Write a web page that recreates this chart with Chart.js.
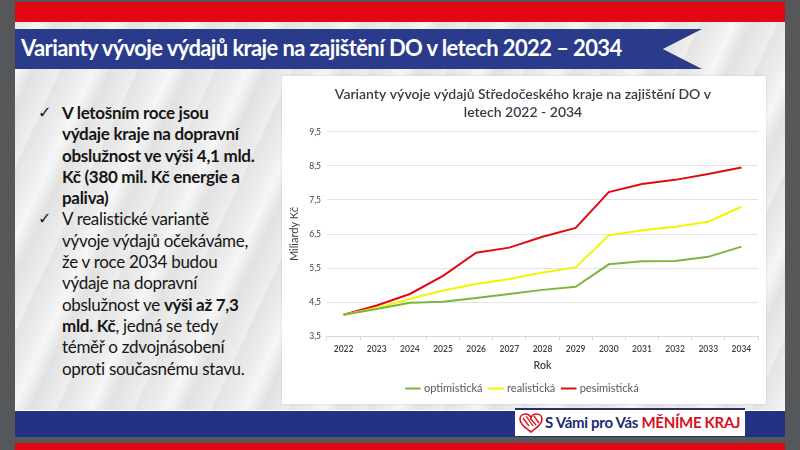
<!DOCTYPE html>
<html>
<head>
<meta charset="utf-8">
<script src="https://cdn.jsdelivr.net/npm/chart.js@4"></script>
<style>
  html, body { margin: 0; padding: 0; }
  body { width: 800px; height: 450px; background: #565758; position: relative; overflow: hidden; font-family: Lato, "Open Sans", sans-serif; }
  #slide { position: absolute; left: 15px; top: 2px; width: 770px; height: 434px;
    background: repeating-linear-gradient(115deg, #e4e4e4 0px, #ececec 18px, #f6f6f6 30px, #e2e2e2 46px, #eeeeee 70px); }
  #topbar { position: absolute; left: 15px; top: 2px; width: 770px; height: 20px; background: #e30613; }
  #banner { position: absolute; left: 15px; top: 29px; width: 687px; height: 40px; background: #2b3b8c;
    clip-path: polygon(0 0, 100% 0, 94.3% 50%, 100% 100%, 0 100%); }
  #banner span { position: absolute; left: 6px; top: 5px; color: #fff; font-weight: bold; font-size: 22px; letter-spacing: -0.6px; white-space: nowrap; }
  #bottombar { position: absolute; left: 15px; top: 410px; width: 770px; height: 26px; background: #213382; border-top: 1px solid #fff; }
  #bottomred { position: absolute; left: 15px; top: 443px; width: 770px; height: 7px; background: #e30613; }
  #logo { position: absolute; left: 515px; top: 408px; width: 230px; height: 26px; background: #fff; border-top: 2px solid #2a3160;
    font-weight: bold; font-size: 15px; white-space: nowrap; }
  #logo svg { position: absolute; left: 4px; top: 3px; }
  #logo .a { position: absolute; left: 30px; top: 3px; color: #1d2a6e; letter-spacing: -0.3px; }
  #logo .b { color: #d7101e; }
  #text { position: absolute; left: 36px; top: 102px; width: 245px; color: #161616; font-size: 17px; line-height: 21.3px; letter-spacing: -0.3px; }
  #text .li { position: relative; padding-left: 26px; }
  #text .li::before { content: "\2713"; position: absolute; left: 2px; top: 0; font-weight: normal; font-family: "DejaVu Sans"; font-size: 16px; }
  #panel { position: absolute; left: 282px; top: 76px; width: 484px; height: 328px; background: #fff; box-shadow: 0 0 2px rgba(0,0,0,0.15); }
  #panel canvas { position: absolute; left: 0; top: 0; }
</style>
</head>
<body>
<div id="slide"></div>
<div id="topbar"></div>
<div id="banner"><span>Varianty vývoje výdajů kraje na zajištění DO v letech 2022 – 2034</span></div>
<div id="text">
  <div class="li"><b>V letošním roce jsou<br>výdaje kraje na dopravní<br>obslužnost ve výši 4,1 mld.<br>Kč (380 mil. Kč energie a<br>paliva)</b></div>
  <div class="li">V realistické variantě<br>vývoje výdajů očekáváme,<br>že v roce 2034 budou<br>výdaje na dopravní<br>obslužnost ve <b>výši až 7,3<br>mld. Kč</b>, jedná se tedy<br>téměř o zdvojnásobení<br>oproti současnému stavu.</div>
</div>
<div id="panel"><canvas id="myChart" width="484" height="328"></canvas></div>
<div id="bottombar"></div>
<div id="bottomred"></div>
<div id="logo">
  <svg width="24" height="20" viewBox="0 0 24 20">
    <path d="M12 19 C4 13 1 10 1 6 C1 3 3.5 1 6.5 1 C9 1 11 2.5 12 4.5 C13 2.5 15 1 17.5 1 C20.5 1 23 3 23 6 C23 10 20 13 12 19 Z" fill="#fff" stroke="#d7101e" stroke-width="1.6"/>
    <path d="M4 5 L10 13 M7 3 L14 13 M11 5 L17 12 M15 3 L20 10" stroke="#d7101e" stroke-width="1.3"/>
  </svg>
  <span class="a">S Vámi pro Vás <span class="b">MĚNÍME KRAJ</span></span>
</div>
<script>
var ctx = document.getElementById("myChart").getContext('2d');

var years = ['2022', '2023', '2024', '2025', '2026', '2027', '2028', '2029', '2030', '2031', '2032', '2033', '2034'];
var optimisticka = [4.13, 4.30, 4.48, 4.51, 4.62, 4.74, 4.86, 4.95, 5.61, 5.70, 5.71, 5.83, 6.13];
var realisticka  = [4.13, 4.33, 4.59, 4.84, 5.03, 5.18, 5.37, 5.52, 6.46, 6.61, 6.71, 6.86, 7.30];
var pesimisticka = [4.13, 4.40, 4.74, 5.27, 5.95, 6.10, 6.42, 6.68, 7.73, 7.97, 8.09, 8.26, 8.45];
var yTicks = [3.5, 4.5, 5.5, 6.5, 7.5, 8.5, 9.5];

var FONT = 'Lato, "Open Sans", sans-serif';

function line(label, values, color){
    return {
        label: label,
        data: values,
        borderColor: color,
        backgroundColor: color,
        borderWidth: 2,
        pointRadius: 0,
        tension: 0
    };
}

var myChart = new Chart(ctx, {
    type: 'line',
    data: {
        labels: years,
        datasets: [
            line('optimistická', optimisticka, '#7bb540'),
            line('realistická', realisticka, '#f4f400'),
            line('pesimistická', pesimisticka, '#e00a12')
        ]
    },
    options: {
        responsive: false,
        animation: false,
        layout: { padding: { left: 6, right: 8, top: 4, bottom: 0 } },
        plugins: {
            title: {
                display: true,
                text: ['Varianty vývoje výdajů Středočeského kraje na zajištění DO v', 'letech 2022 - 2034'],
                color: '#3b3b48',
                font: { family: FONT, size: 14, weight: '600', lineHeight: 1.28 },
                padding: { top: 6, bottom: 10 }
            },
            legend: {
                position: 'bottom',
                labels: {
                    usePointStyle: true,
                    pointStyle: 'line',
                    boxWidth: 16,
                    color: '#595959',
                    font: { family: FONT, size: 11 },
                    padding: 8
                }
            },
            tooltip: { enabled: false }
        },
        scales: {
            x: {
                offset: true,
                grid: { drawOnChartArea: false, color: '#d9d9d9', tickLength: 4, offset: true },
                border: { color: '#d9d9d9' },
                ticks: { color: '#404040', font: { family: FONT, size: 8.5, weight: '600' }, maxRotation: 0, padding: 4 },
                title: { display: true, text: 'Rok', color: '#404040', font: { family: FONT, size: 10.5, weight: '600' }, padding: { top: 1, bottom: 3 } }
            },
            y: {
                min: 3.5,
                max: 9.5,
                afterBuildTicks: function(scale){ scale.ticks = yTicks.map(function(v){ return { value: v }; }); },
                grid: { color: '#e3e3e3', drawTicks: false },
                border: { display: false },
                ticks: {
                    color: '#404040',
                    font: { family: FONT, size: 8.5 },
                    padding: 6,
                    callback: function(v){ return String(v).replace('.', ','); }
                },
                title: { display: true, text: 'Miliardy Kč', color: '#404040', font: { family: FONT, size: 11 }, padding: { top: 0, bottom: 2 } }
            }
        }
    }
});
</script>
</body>
</html>
